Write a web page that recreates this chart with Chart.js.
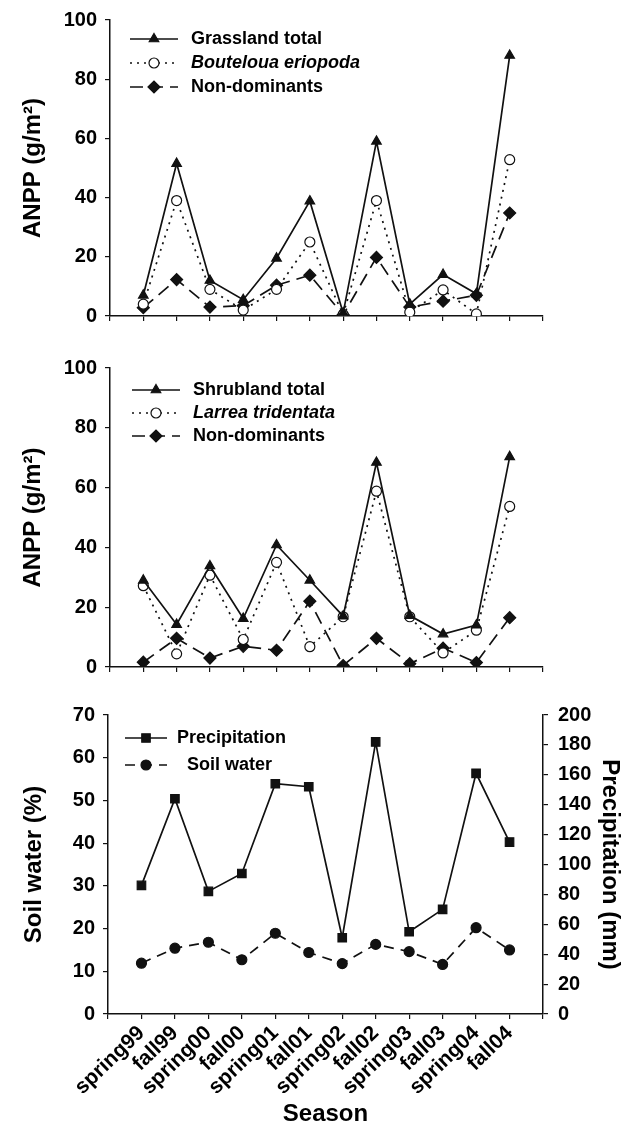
<!DOCTYPE html>
<html>
<head>
<meta charset="utf-8">
<script src="https://cdn.jsdelivr.net/npm/chart.js@4"></script>
<style>
  body { margin: 0; background: #fff; }
  canvas { position: absolute; left: 0; }
</style>
</head>
<body>
<canvas id="grassChart" width="633" height="340" style="top:0px"></canvas>
<canvas id="shrubChart" width="633" height="350" style="top:340px"></canvas>
<canvas id="waterChart" width="633" height="436" style="top:690px"></canvas>
<script>
const seasons = ['spring99', 'fall99', 'spring00', 'fall00', 'spring01', 'fall01',
                 'spring02', 'fall02', 'spring03', 'fall03', 'spring04', 'fall04'];

// grassland ANPP (g/m2)
const grassTotal   = [7, 51.5, 12, 5.5, 19.5, 38.8, 1, 59, 4, 14, 7.5, 88];
const bouteloua    = [4, 39, 9, 2, 9, 25, 0.5, 39, 1.3, 8.8, 0.7, 52.8];
const grassNonDom  = [2.8, 12.3, 3, 3.5, 10.4, 13.8, 0.4, 19.8, 3, 5, 7, 34.8];

// shrubland ANPP (g/m2)
const shrubTotal   = [29, 14.2, 33.8, 16.2, 40.8, 29, 17, 68.4, 17.2, 11, 14, 70.3];
const larrea       = [27.2, 4.4, 30.7, 9.2, 35, 6.8, 16.8, 58.8, 16.8, 4.7, 12.3, 53.7];
const shrubNonDom  = [1.6, 9.6, 3, 6.9, 5.6, 22, 0.5, 9.6, 1.1, 6.3, 1.5, 16.5];

// precipitation (mm) and soil water (%)
const precip       = [86, 144, 82, 94, 154, 152, 51, 182, 55, 70, 161, 115];
const soilWater    = [11.9, 15.4, 16.8, 12.7, 18.9, 14.4, 11.8, 16.3, 14.6, 11.6, 20.2, 15];

const anppTicks = [0, 20, 40, 60, 80, 100];
const soilTicks = [0, 10, 20, 30, 40, 50, 60, 70];
const precipTicks = [0, 20, 40, 60, 80, 100, 120, 140, 160, 180, 200];

// empty slot at both ends so the axis runs one step past the first and last season
const axisLabels = ['', ...seasons, ''];
const pad = arr => [null, ...arr, null];

const family = "'Liberation Sans', Arial, Helvetica, sans-serif";
Chart.defaults.font.family = family;
Chart.defaults.color = '#000';

const ink = '#111';

const rowLegend = {
  id: 'rowLegend',
  afterDatasetsDraw(chart, args, opts) {
    const { ctx, chartArea } = chart;
    chart.data.datasets.forEach((ds, i) => {
      const y = chartArea.top + opts.top + i * opts.gap;
      const x0 = chartArea.left + opts.left;
      const x1 = x0 + opts.lineLen;
      ctx.save();
      ctx.strokeStyle = ds.borderColor;
      ctx.lineWidth = ds.borderWidth;
      ctx.setLineDash(ds.borderDash || []);
      ctx.beginPath();
      ctx.moveTo(x0, y);
      ctx.lineTo(x1, y);
      ctx.stroke();
      ctx.setLineDash([]);
      ctx.fillStyle = ds.pointBackgroundColor;
      ctx.strokeStyle = ds.pointBorderColor;
      ctx.lineWidth = ds.pointBorderWidth;
      Chart.helpers.drawPoint(ctx, {
        pointStyle: ds.pointStyle, radius: ds.pointRadius, rotation: 0,
        borderWidth: ds.pointBorderWidth
      }, (x0 + x1) / 2, y);
      ctx.fillStyle = '#000';
      ctx.font = (opts.italic.includes(i) ? 'italic ' : '') + 'bold 18px ' + family;
      ctx.textBaseline = 'middle';
      ctx.fillText(ds.label, x1 + opts.textGap + (opts.indent ? opts.indent[i] : 0), y);
      ctx.restore();
    });
  }
};

function series(label, data, style, extra) {
  const s = {
    label: label,
    data: pad(data),
    borderColor: ink,
    borderWidth: 1.7,
    pointBorderColor: ink,
    pointBorderWidth: 1.2,
    pointBackgroundColor: ink,
    pointRadius: 5.5,
    pointHoverRadius: 5.5,
    tension: 0,
    spanGaps: false
  };
  if (style === 'solid') { s.pointStyle = 'triangle'; }
  if (style === 'dotted') { s.borderDash = [2, 5]; s.pointStyle = 'circle'; s.pointBackgroundColor = '#fff'; s.pointRadius = 5; }
  if (style === 'dashed') { s.borderDash = [13, 7]; s.pointStyle = 'rectRot'; s.pointRadius = 6; }
  return Object.assign(s, extra || {});
}

function xScale(bottomHeight, showLabels, title) {
  return {
    type: 'category',
    offset: false,
    border: { display: true, color: ink, width: 1.5 },
    grid: { drawOnChartArea: false, drawTicks: true, tickLength: 5, color: ink, lineWidth: 1.2 },
    ticks: {
      display: showLabels, autoSkip: false, minRotation: 44, maxRotation: 44, padding: 2,
      font: { size: 21, weight: 'bold' }, color: '#000'
    },
    title: title ? { display: true, text: title, font: { size: 24, weight: 'bold', lineHeight: 1 }, padding: { top: 0, bottom: 0 }, color: '#000' } : { display: false },
    afterFit(scale) { scale.height = bottomHeight; }
  };
}

function yScale(opts) {
  return {
    type: 'linear',
    position: opts.position || 'left',
    min: opts.ticks[0],
    max: opts.ticks[opts.ticks.length - 1],
    afterBuildTicks(scale) { scale.ticks = opts.ticks.map(v => ({ value: v })); },
    border: { display: true, color: ink, width: 1.5 },
    grid: { drawOnChartArea: false, drawTicks: true, tickLength: 5, color: ink, lineWidth: 1.2 },
    ticks: { padding: opts.tickPad || 8, font: { size: 20, weight: 'bold' }, color: '#000' },
    title: {
      display: true, text: opts.title, color: '#000',
      font: { size: 24, weight: 'bold' },
      padding: { top: opts.titlePad, bottom: 0 }
    },
    afterFit(scale) { scale.width = opts.width; }
  };
}

function baseOptions(layoutPad, scales, legendOpts) {
  return {
    responsive: false,
    animation: false,
    layout: { padding: layoutPad },
    scales: scales,
    plugins: {
      legend: { display: false },
      tooltip: { enabled: false },
      rowLegend: legendOpts
    }
  };
}

new Chart(document.getElementById('grassChart'), {
  type: 'line',
  data: {
    labels: axisLabels,
    datasets: [
      series('Grassland total', grassTotal, 'solid'),
      series('Bouteloua eriopoda', bouteloua, 'dotted'),
      series('Non-dominants', grassNonDom, 'dashed')
    ]
  },
  options: baseOptions(
    { top: 19, right: 90, bottom: 0, left: 0 },
    {
      x: xScale(24, false),
      y: yScale({ ticks: anppTicks, title: 'ANPP (g/m²)', width: 110, titlePad: 19 })
    },
    { left: 20, top: 19, gap: 24, lineLen: 48, textGap: 13, italic: [1] }
  ),
  plugins: [rowLegend]
});

new Chart(document.getElementById('shrubChart'), {
  type: 'line',
  data: {
    labels: axisLabels,
    datasets: [
      series('Shrubland total', shrubTotal, 'solid'),
      series('Larrea tridentata', larrea, 'dotted'),
      series('Non-dominants', shrubNonDom, 'dashed')
    ]
  },
  options: baseOptions(
    { top: 28, right: 90, bottom: 0, left: 0 },
    {
      x: xScale(23, false),
      y: yScale({ ticks: anppTicks, title: 'ANPP (g/m²)', width: 110, titlePad: 19 })
    },
    { left: 22, top: 22, gap: 23, lineLen: 48, textGap: 13, italic: [1] }
  ),
  plugins: [rowLegend]
});

new Chart(document.getElementById('waterChart'), {
  type: 'line',
  data: {
    labels: axisLabels,
    datasets: [
      series('Precipitation', precip, 'solid', { pointStyle: 'rect', pointRadius: 6, yAxisID: 'y1' }),
      series('Soil water', soilWater, 'dashed', { pointStyle: 'circle', pointRadius: 5, borderDash: [10, 7], yAxisID: 'y' })
    ]
  },
  options: baseOptions(
    { top: 25, right: 0, bottom: 0, left: 0 },
    {
      x: xScale(112, true, 'Season'),
      y: yScale({ ticks: soilTicks, title: 'Soil water (%)', width: 108, titlePad: 20 }),
      y1: yScale({ ticks: precipTicks, title: 'Precipitation (mm)', width: 90, titlePad: 9, position: 'right', tickPad: 10 })
    },
    { left: 17, top: 23, gap: 27, lineLen: 42, textGap: 10, italic: [], indent: [0, 10] }
  ),
  plugins: [rowLegend]
});
</script>
</body>
</html>
